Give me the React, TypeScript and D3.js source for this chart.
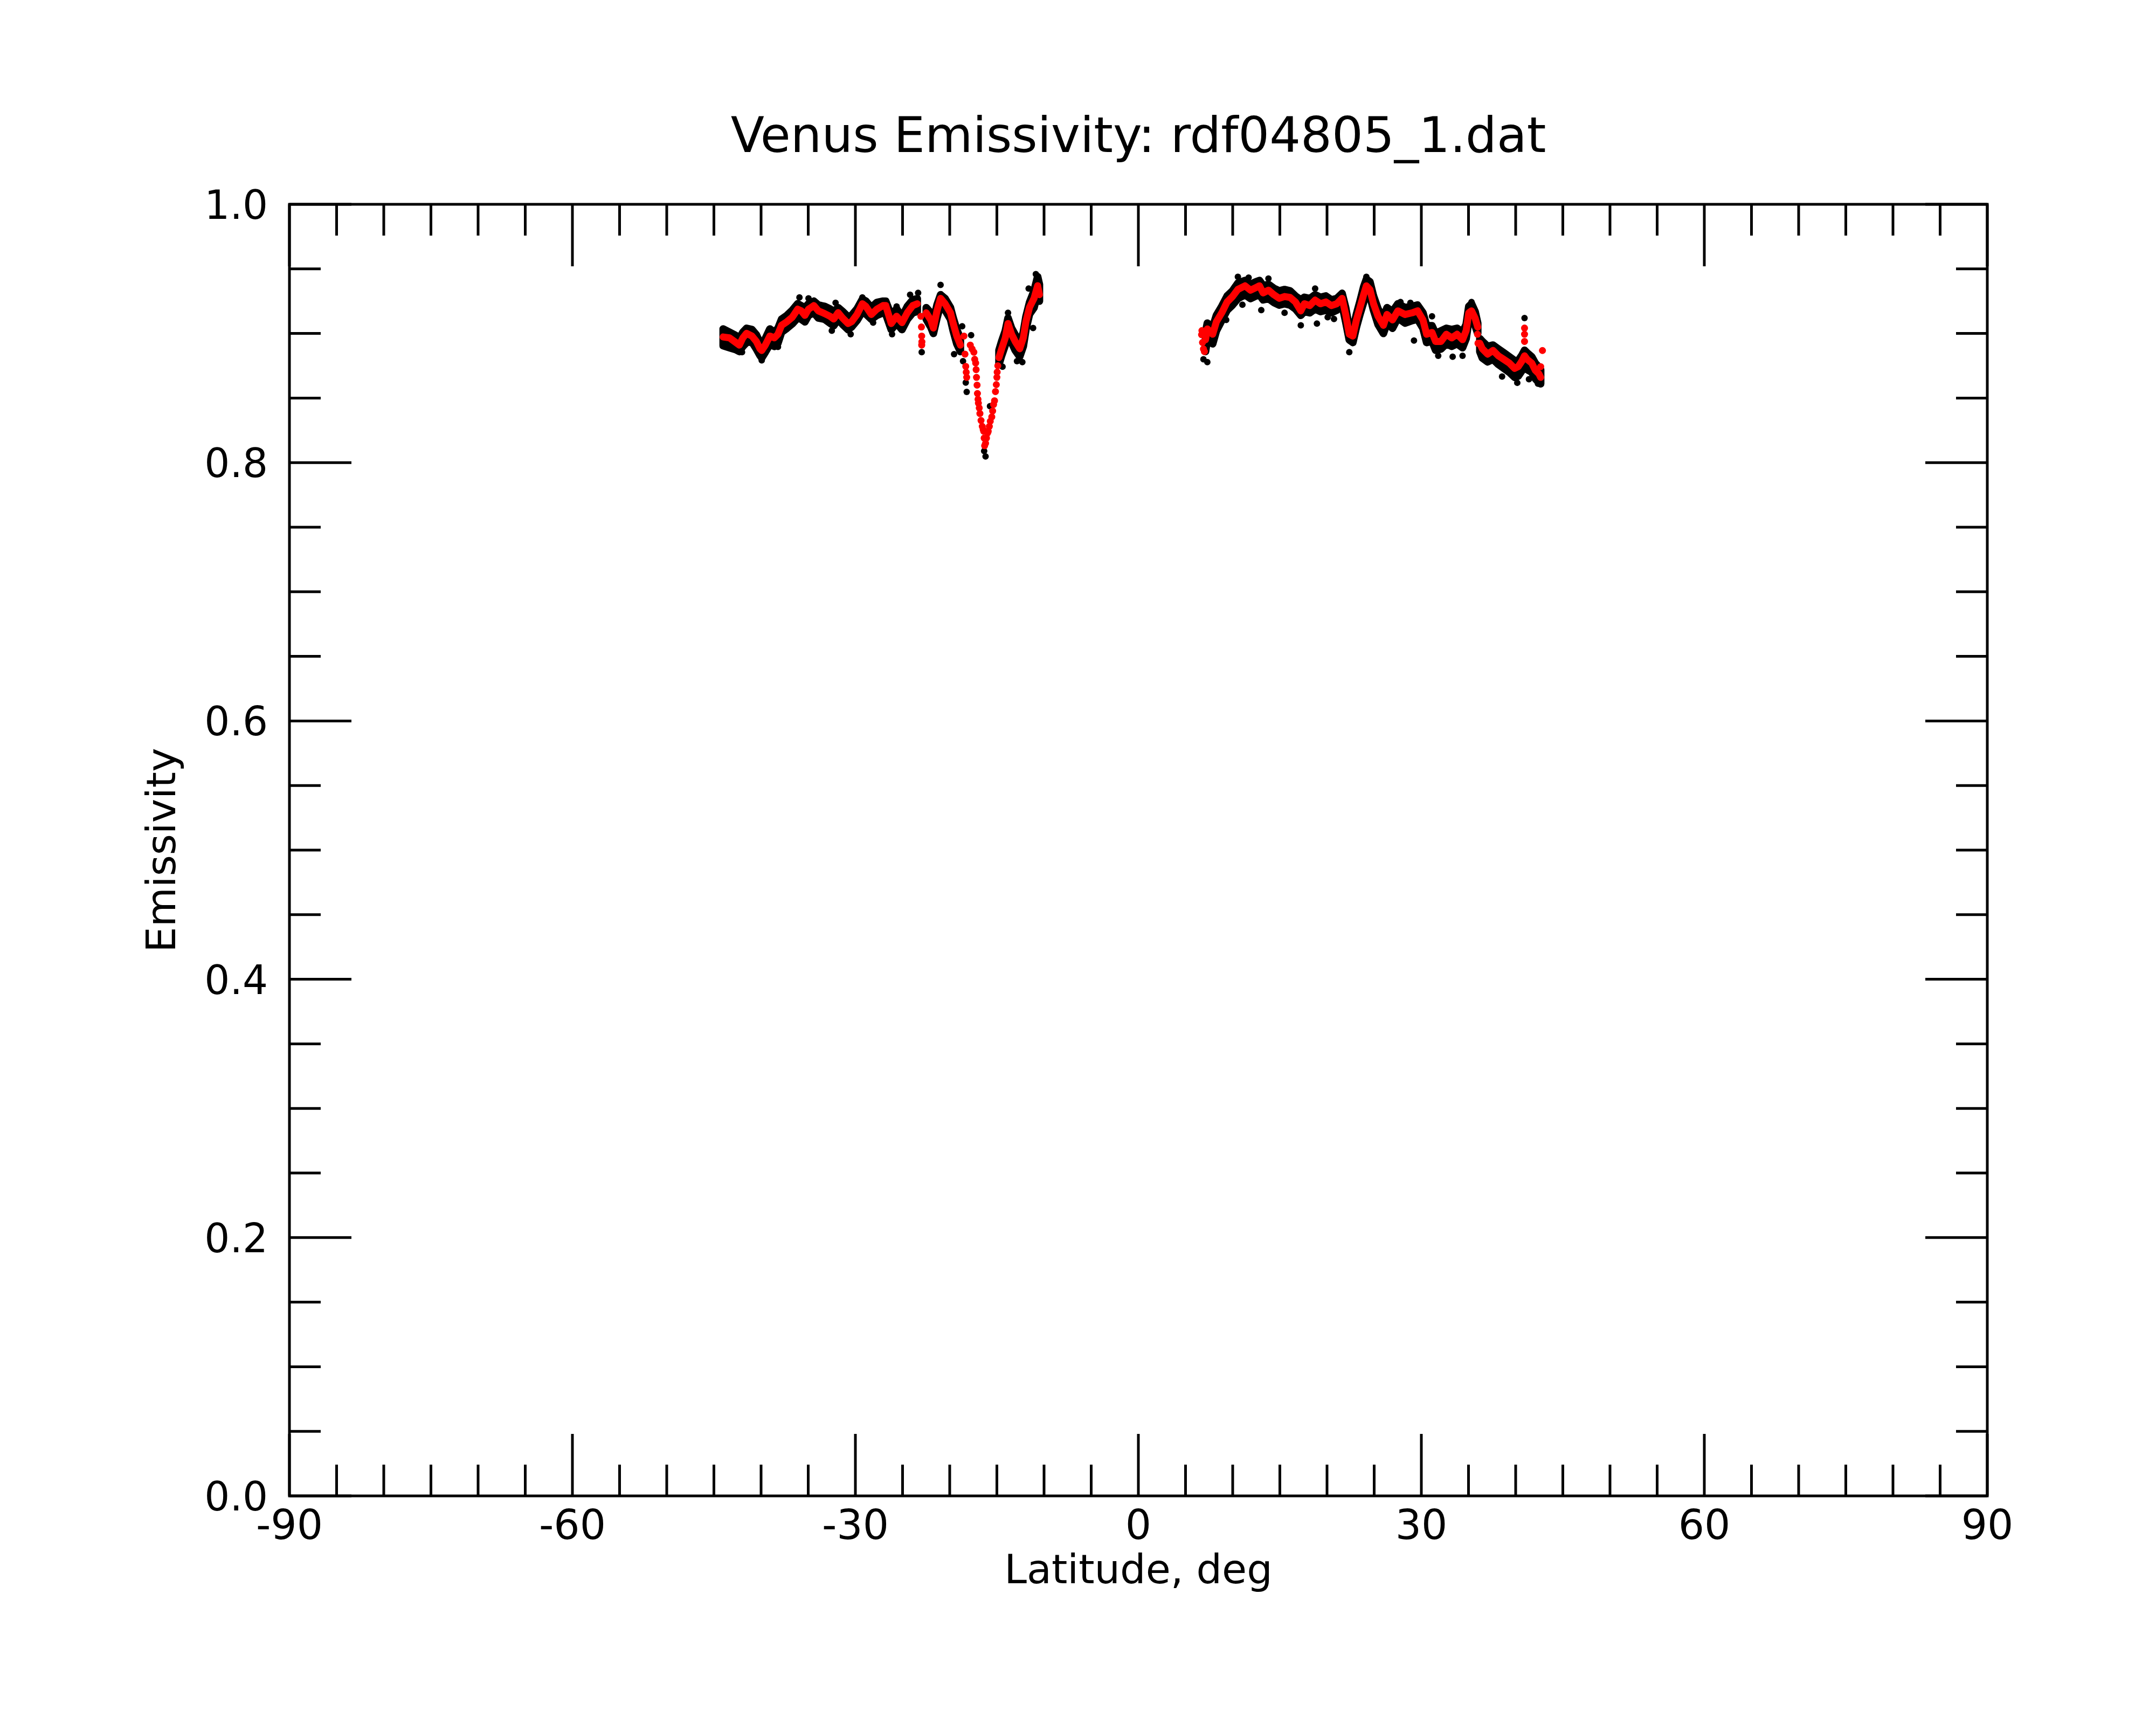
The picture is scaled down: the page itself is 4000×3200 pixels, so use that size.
import * as d3 from 'd3'

// rows: [latitude, smoothed emissivity, raw upper, raw lower]
type Row = [number, number, number, number]

const southA: Row[] = [
  [-44.02, 0.8973, 0.9035, 0.8905], [-43.35, 0.8966, 0.9010, 0.8890], [-42.69, 0.8931, 0.8985, 0.8875],
  [-42.30, 0.8910, 0.8960, 0.8860], [-41.93, 0.8966, 0.9010, 0.8900], [-41.54, 0.9001, 0.9040, 0.8930],
  [-40.97, 0.8980, 0.9030, 0.8935], [-40.50, 0.8938, 0.8990, 0.8880], [-40.12, 0.8882, 0.8930, 0.8830],
  [-39.93, 0.8868, 0.8910, 0.8810], [-39.55, 0.8910, 0.8960, 0.8855], [-39.07, 0.8980, 0.9035, 0.8915],
  [-38.59, 0.8966, 0.9010, 0.8900], [-38.21, 0.8994, 0.9040, 0.8925], [-37.83, 0.9063, 0.9110, 0.9010],
  [-37.26, 0.9091, 0.9140, 0.9040], [-36.69, 0.9126, 0.9180, 0.9075], [-36.12, 0.9188, 0.9230, 0.9120],
  [-35.74, 0.9175, 0.9215, 0.9110], [-35.35, 0.9140, 0.9200, 0.9090], [-34.97, 0.9188, 0.9230, 0.9140],
  [-34.40, 0.9216, 0.9250, 0.9160], [-33.93, 0.9175, 0.9220, 0.9120], [-33.26, 0.9154, 0.9210, 0.9110],
  [-32.69, 0.9133, 0.9190, 0.9080], [-32.30, 0.9112, 0.9170, 0.9060], [-31.83, 0.9161, 0.9200, 0.9110],
  [-31.35, 0.9119, 0.9170, 0.9070], [-30.78, 0.9077, 0.9130, 0.9030], [-30.40, 0.9091, 0.9140, 0.9050],
  [-29.83, 0.9147, 0.9190, 0.9100], [-29.26, 0.9230, 0.9265, 0.9170], [-28.88, 0.9209, 0.9250, 0.9150],
  [-28.31, 0.9147, 0.9200, 0.9110], [-27.73, 0.9188, 0.9240, 0.9140], [-27.07, 0.9216, 0.9250, 0.9160],
  [-26.78, 0.9216, 0.9250, 0.9150], [-26.20, 0.9077, 0.9140, 0.9030], [-25.63, 0.9133, 0.9190, 0.9080],
  [-25.06, 0.9084, 0.9130, 0.9030], [-24.49, 0.9161, 0.9210, 0.9110], [-23.92, 0.9216, 0.9260, 0.9160],
  [-23.44, 0.9230, 0.9270, 0.9170],
]

const southB: Row[] = [
  [-22.49, 0.9160, 0.9200, 0.9110], [-22.01, 0.9105, 0.9160, 0.9050], [-21.73, 0.9042, 0.9100, 0.9000],
  [-21.35, 0.9175, 0.9220, 0.9120], [-20.97, 0.9272, 0.9300, 0.9220], [-20.49, 0.9230, 0.9270, 0.9180],
  [-19.92, 0.9160, 0.9200, 0.9110], [-19.63, 0.9077, 0.9120, 0.9020], [-19.25, 0.8980, 0.9030, 0.8920],
  [-18.87, 0.8910, 0.8960, 0.8860],
]

const southC: Row[] = [
  [-14.78, 0.8813, 0.8870, 0.8760], [-14.49, 0.8882, 0.8940, 0.8830], [-14.11, 0.8966, 0.9020, 0.8910],
  [-13.82, 0.9077, 0.9120, 0.8990], [-13.44, 0.8994, 0.9040, 0.8930], [-13.06, 0.8938, 0.8990, 0.8870],
  [-12.58, 0.8882, 0.8920, 0.8820], [-12.20, 0.8966, 0.9010, 0.8900], [-11.92, 0.9091, 0.9130, 0.9030],
  [-11.54, 0.9202, 0.9240, 0.9150], [-11.06, 0.9272, 0.9330, 0.9200], [-10.68, 0.9370, 0.9440, 0.9310],
  [-10.49, 0.9300, 0.9380, 0.9250],
]

const northA: Row[] = [
  [7.12, 0.8952, 0.9010, 0.8860], [7.31, 0.9035, 0.9080, 0.8950], [7.88, 0.8994, 0.9050, 0.8920],
  [8.27, 0.9091, 0.9140, 0.9020], [8.84, 0.9160, 0.9210, 0.9100], [9.41, 0.9244, 0.9290, 0.9180],
  [9.98, 0.9286, 0.9330, 0.9220], [10.55, 0.9341, 0.9390, 0.9270], [11.31, 0.9369, 0.9410, 0.9300],
  [11.88, 0.9335, 0.9380, 0.9270], [12.45, 0.9355, 0.9400, 0.9290], [12.84, 0.9369, 0.9410, 0.9300],
  [13.22, 0.9314, 0.9370, 0.9260], [13.79, 0.9335, 0.9380, 0.9270], [14.36, 0.9300, 0.9350, 0.9240],
  [14.93, 0.9272, 0.9330, 0.9220], [15.50, 0.9286, 0.9340, 0.9230], [16.08, 0.9279, 0.9330, 0.9220],
  [16.65, 0.9244, 0.9290, 0.9190], [17.22, 0.9175, 0.9260, 0.9140], [17.60, 0.9230, 0.9280, 0.9170],
  [18.17, 0.9216, 0.9270, 0.9160], [18.74, 0.9258, 0.9300, 0.9190], [19.31, 0.9230, 0.9280, 0.9170],
  [19.88, 0.9244, 0.9290, 0.9180], [20.46, 0.9216, 0.9260, 0.9160], [21.03, 0.9230, 0.9270, 0.9180],
  [21.60, 0.9272, 0.9310, 0.9220], [21.98, 0.9147, 0.9200, 0.9090], [22.36, 0.8994, 0.9040, 0.8950],
  [22.74, 0.8980, 0.9030, 0.8930], [23.12, 0.9105, 0.9150, 0.9050], [23.50, 0.9202, 0.9250, 0.9150],
  [23.88, 0.9300, 0.9360, 0.9240], [24.17, 0.9369, 0.9420, 0.9310], [24.55, 0.9340, 0.9400, 0.9290],
  [24.93, 0.9230, 0.9290, 0.9180], [25.41, 0.9133, 0.9190, 0.9070], [25.98, 0.9063, 0.9120, 0.9000],
  [26.36, 0.9147, 0.9200, 0.9080], [26.94, 0.9105, 0.9170, 0.9040], [27.51, 0.9175, 0.9230, 0.9120],
  [28.27, 0.9147, 0.9200, 0.9080], [29.03, 0.9160, 0.9210, 0.9100], [29.60, 0.9175, 0.9220, 0.9110],
  [30.17, 0.9105, 0.9160, 0.9040], [30.56, 0.8994, 0.9060, 0.8930], [31.13, 0.9008, 0.9060, 0.8940],
  [31.51, 0.8938, 0.9000, 0.8870], [32.08, 0.8938, 0.9020, 0.8880], [32.65, 0.8994, 0.9040, 0.8920],
  [33.22, 0.8966, 0.9030, 0.8900], [33.79, 0.8994, 0.9040, 0.8920], [34.37, 0.8952, 0.9010, 0.8890],
  [34.75, 0.9022, 0.9070, 0.8960], [35.03, 0.9160, 0.9210, 0.9100], [35.32, 0.9175, 0.9230, 0.9120],
  [35.70, 0.9119, 0.9170, 0.9060], [35.98, 0.9049, 0.9080, 0.9000],
]

const northB: Row[] = [
  [36.20, 0.8924, 0.8960, 0.8860], [36.46, 0.8882, 0.8940, 0.8810], [37.03, 0.8840, 0.8900, 0.8780],
  [37.60, 0.8868, 0.8910, 0.8800], [38.17, 0.8827, 0.8880, 0.8760], [38.75, 0.8799, 0.8850, 0.8730],
  [39.32, 0.8771, 0.8820, 0.8700], [39.89, 0.8730, 0.8790, 0.8660], [40.27, 0.8743, 0.8790, 0.8670],
  [40.65, 0.8785, 0.8830, 0.8710], [40.94, 0.8827, 0.8870, 0.8750], [41.22, 0.8799, 0.8850, 0.8720],
  [41.70, 0.8771, 0.8820, 0.8700], [42.08, 0.8715, 0.8770, 0.8650], [42.46, 0.8688, 0.8740, 0.8620],
  [42.65, 0.8660, 0.8720, 0.8610],
]

// isolated smoothed points (sparse stretches)
const redDots: [number, number][] = [
  [-23.06, 0.9133], [-23.0, 0.905], [-22.97, 0.898], [-22.97, 0.891], [-22.95, 0.8935],
  [-18.49, 0.898], [-18.38, 0.884], [-18.30, 0.8745], [-18.25, 0.870], [-18.20, 0.866],
  [-17.82, 0.891], [-17.63, 0.888], [-17.44, 0.8855], [-17.35, 0.880], [-17.25, 0.8771],
  [-17.20, 0.872], [-17.16, 0.866], [-17.10, 0.860], [-17.06, 0.8535], [-17.00, 0.849],
  [-16.96, 0.846], [-16.87, 0.8423], [-16.80, 0.838], [-16.68, 0.8326], [-16.55, 0.828],
  [-16.45, 0.8255], [-16.39, 0.8242], [-16.35, 0.819], [-16.30, 0.8131], [-16.2, 0.815],
  [-16.1, 0.819], [-15.98, 0.823], [-15.92, 0.8242], [-15.8, 0.828], [-15.7, 0.832],
  [-15.54, 0.8354], [-15.45, 0.840], [-15.35, 0.845], [-15.25, 0.8479], [-15.15, 0.855],
  [-15.06, 0.8604], [-15.0, 0.866], [-14.97, 0.8701], [-14.9, 0.875],
  [6.70, 0.899], [6.80, 0.893], [6.90, 0.888], [7.0, 0.886], [6.74, 0.9022],
  [35.95, 0.8994], [36.0, 0.8924],
  [40.94, 0.8938], [40.94, 0.8994], [40.94, 0.9042], [42.65, 0.8743], [42.84, 0.8868],
]

// raw points lying outside the main band
const blackDots: [number, number][] = [
  [-35.93, 0.9279], [-34.97, 0.9272], [-32.5, 0.9021], [-30.5, 0.8994], [-39.93, 0.8792],
  [-42.02, 0.8855], [-38.21, 0.8896], [-32.1, 0.9237], [-29.26, 0.9279], [-28.12, 0.9084],
  [-20.97, 0.9376], [-23.35, 0.9314], [-24.2, 0.930], [-22.97, 0.8855], [-26.11, 0.8994],
  [-25.63, 0.9209], [-18.68, 0.9056], [-17.73, 0.8987], [-18.2, 0.8548], [-16.2, 0.8048],
  [-15.73, 0.8437], [-14.4, 0.8743], [-13.82, 0.916], [-12.87, 0.8785], [-12.3, 0.8778],
  [-11.63, 0.9348], [-10.87, 0.946], [-11.16, 0.9042], [-19.54, 0.884], [-18.59, 0.8785],
  [-21.82, 0.9008], [-18.3, 0.862], [-16.35, 0.809],
  [10.55, 0.9439], [11.69, 0.9432], [13.79, 0.9425], [11.03, 0.9223], [13.03, 0.9181],
  [18.93, 0.9077], [17.22, 0.9063], [20.07, 0.9126], [20.74, 0.9112], [22.36, 0.8855],
  [7.31, 0.8778], [6.9, 0.8800], [21.6, 0.9314], [24.17, 0.9439], [18.74, 0.9348], [15.5, 0.916],
  [9.31, 0.9105], [35.32, 0.9244], [40.94, 0.9119], [42.36, 0.8611], [38.56, 0.8667],
  [31.79, 0.8827], [33.32, 0.882], [29.22, 0.8945], [31.13, 0.9133], [27.79, 0.9244],
  [28.84, 0.9237], [41.41, 0.8646], [40.17, 0.8618], [34.37, 0.8827],
]

const segments = [southA, southB, southC, northA, northB]
const xTicksMajor = [-90, -60, -30, 0, 30, 60, 90]
const yTicksMajor = [0.0, 0.2, 0.4, 0.6, 0.8, 1.0]

export default function App() {
  const width = 4000
  const height = 3200
  const left = 537, right = 3687, top = 379, bottom = 2775
  const x = d3.scaleLinear([-90, 90], [left, right])
  const y = d3.scaleLinear([0, 1], [bottom, top])
  const font = 'DejaVu Sans'

  const xMinor = d3.range(-85, 90, 5).filter(v => v % 30 !== 0)
  const yMinor = d3.range(1, 20).map(i => i * 0.05).filter((_, i) => (i + 1) % 4 !== 0)

  const band = d3.area<Row>().x(d => x(d[0])).y0(d => y(d[3])).y1(d => y(d[2]))
  const fit = d3.line<Row>().x(d => x(d[0])).y(d => y(d[1]))

  const major = 115, minor = 58

  return (
    <div style={{position: 'absolute', left: 0, top: 0}}>
      <svg width={width} height={height} style={{display: 'block', background: 'white'}}>
        <rect width={width} height={height} fill="white"/>
        <text x={(left + right) / 2} y={282} fontFamily={font} fontSize={91} textAnchor="middle">
          Venus Emissivity: rdf04805_1.dat
        </text>

        {/* raw data band */}
        {segments.map((seg, i) => (
          <path key={'b' + i} d={band(seg) ?? ''} fill="black" stroke="black" strokeWidth={14}
                strokeLinejoin="round"/>
        ))}
        {blackDots.map((d, i) => (
          <circle key={'k' + i} cx={x(d[0])} cy={y(d[1])} r={6} fill="black"/>
        ))}

        {/* smoothed */}
        {segments.map((seg, i) => (
          <path key={'r' + i} d={fit(seg) ?? ''} fill="none" stroke="#ff0000" strokeWidth={13}
                strokeLinejoin="round" strokeLinecap="round"/>
        ))}
        {redDots.map((d, i) => (
          <circle key={'d' + i} cx={x(d[0])} cy={y(d[1])} r={6.5} fill="#ff0000"/>
        ))}

        {/* frame and ticks */}
        <rect x={left} y={top} width={right - left} height={bottom - top} fill="none" stroke="black"
              strokeWidth={5}/>
        <g stroke="black" strokeWidth={5}>
          {xTicksMajor.map(v => (
            <g key={'xm' + v}>
              <line x1={x(v)} x2={x(v)} y1={bottom} y2={bottom - major}/>
              <line x1={x(v)} x2={x(v)} y1={top} y2={top + major}/>
            </g>
          ))}
          {xMinor.map(v => (
            <g key={'xn' + v}>
              <line x1={x(v)} x2={x(v)} y1={bottom} y2={bottom - minor}/>
              <line x1={x(v)} x2={x(v)} y1={top} y2={top + minor}/>
            </g>
          ))}
          {yTicksMajor.map(v => (
            <g key={'ym' + v}>
              <line x1={left} x2={left + major} y1={y(v)} y2={y(v)}/>
              <line x1={right} x2={right - major} y1={y(v)} y2={y(v)}/>
            </g>
          ))}
          {yMinor.map(v => (
            <g key={'yn' + v}>
              <line x1={left} x2={left + minor} y1={y(v)} y2={y(v)}/>
              <line x1={right} x2={right - minor} y1={y(v)} y2={y(v)}/>
            </g>
          ))}
        </g>

        <g fontFamily={font}>
          {xTicksMajor.map(v => (
            <text key={'xl' + v} x={x(v)} y={2855} fontSize={76} textAnchor="middle">{v}</text>
          ))}
          {yTicksMajor.map(v => (
            <text key={'yl' + v} x={497} y={y(v) + 27} fontSize={74} textAnchor="end">{v.toFixed(1)}</text>
          ))}
          <text x={(left + right) / 2} y={2937} fontSize={75} textAnchor="middle">Latitude, deg</text>
          <text transform={`translate(325, ${(top + bottom) / 2}) rotate(-90)`} fontSize={75}
                textAnchor="middle">
            Emissivity
          </text>
        </g>
      </svg>
    </div>
  )
}
